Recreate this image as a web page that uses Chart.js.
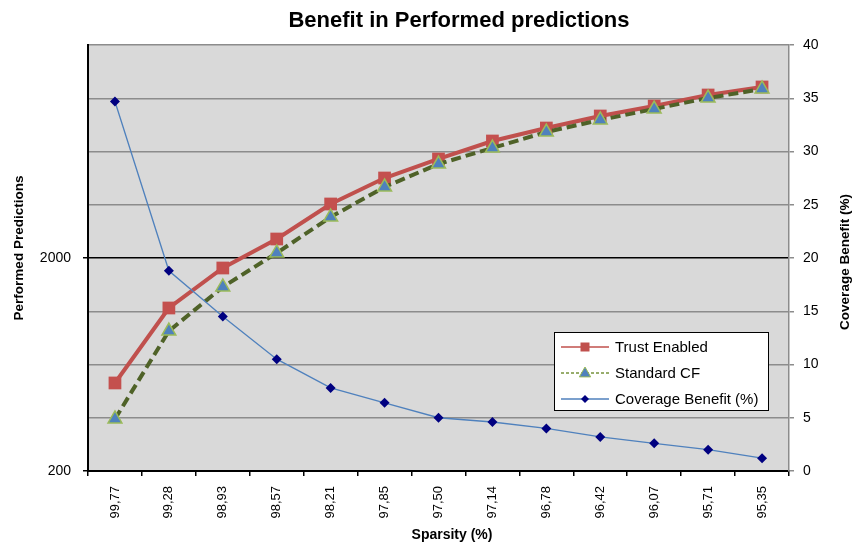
<!DOCTYPE html>
<html><head><meta charset="utf-8">
<script src="https://cdn.jsdelivr.net/npm/chart.js@4/dist/chart.umd.min.js"></script>
<style>html,body{margin:0;padding:0;background:#fff}canvas{display:block}</style>
</head><body>
<canvas id="c" width="855" height="546"></canvas>
<script>
const categories = ['99,77','99,28','98,93','98,57','98,21','97,85','97,50','97,14','96,78','96,42','96,07','95,71','95,35'];
const trustEnabled = [518,1165,1795,2456,3586,4749,5833,7085,8152,9284,10340,11648,12704];
const standardCF = [351,908,1462,2112,3114,4309,5525,6568,7808,8892,10012,11275,12430];
const coverageBenefit = [34.7,18.8,14.5,10.5,7.8,6.4,5.0,4.6,4.0,3.2,2.6,2.0,1.2];
const leftTicks = [200, 2000, 20000];
const leftLabelled = [200, 2000];
const rightTicks = {min: 0, max: 40, step: 5};
const seriesNames = ['Trust Enabled', 'Standard CF', 'Coverage Benefit (%)'];
const chartTitle = 'Benefit in Performed predictions';
const xTitle = 'Sparsity (%)';
const yLeftTitle = 'Performed Predictions';
const yRightTitle = 'Coverage Benefit (%)';
const FONT = "'Liberation Sans', Arial, Helvetica, sans-serif";

const bgPlugin = {
  id: 'bg',
  beforeDraw(chart) {
    const {ctx, chartArea: a} = chart;
    ctx.save();
    ctx.fillStyle = '#fff';
    ctx.fillRect(0, 0, chart.width, chart.height);
    ctx.fillStyle = '#d9d9d9';
    ctx.fillRect(a.left, a.top, a.right - a.left, a.bottom - a.top);
    ctx.restore();
  }
};

const titlesPlugin = {
  id: 'titles',
  afterDraw(chart) {
    const ctx = chart.ctx;
    ctx.save();
    ctx.fillStyle = '#000';
    ctx.textAlign = 'center';
    ctx.textBaseline = 'middle';
    ctx.font = 'bold 22px ' + FONT;
    ctx.fillText(chartTitle, 459, 21);
    ctx.font = 'bold 14px ' + FONT;
    ctx.fillText(xTitle, 452, 535);
    ctx.font = 'bold 13.5px ' + FONT;
    ctx.save(); ctx.translate(19, 248); ctx.rotate(-Math.PI / 2); ctx.fillText(yLeftTitle, 0, 0); ctx.restore();
    ctx.save(); ctx.translate(845, 262); ctx.rotate(-Math.PI / 2); ctx.fillText(yRightTitle, 0, 0); ctx.restore();
    ctx.restore();
  }
};

function marker(ctx, style, x, y, r, fill, stroke, bw) {
  ctx.beginPath();
  if (style === 'rect') {
    ctx.rect(x - r, y - r, 2 * r, 2 * r);
  } else if (style === 'triangle') {
    ctx.moveTo(x, y - r);
    ctx.lineTo(x + r * 0.95, y + r * 0.65);
    ctx.lineTo(x - r * 0.95, y + r * 0.65);
    ctx.closePath();
  } else {
    ctx.moveTo(x, y - r); ctx.lineTo(x + r, y); ctx.lineTo(x, y + r); ctx.lineTo(x - r, y); ctx.closePath();
  }
  ctx.fillStyle = fill; ctx.fill();
  if (bw) { ctx.lineWidth = bw; ctx.strokeStyle = stroke; ctx.stroke(); }
}

const legendPlugin = {
  id: 'customLegend',
  afterDraw(chart) {
    const ctx = chart.ctx;
    const items = [
      {ds: chart.data.datasets[0], line: '#c0504d', dash: [], m: 'rect', r: 4.5, fill: '#c0504d', stroke: '#c0504d', bw: 0},
      {ds: chart.data.datasets[1], line: '#77933c', dash: [3, 2], m: 'triangle', r: 6, fill: '#4f81bd', stroke: '#9bbb59', bw: 1},
      {ds: chart.data.datasets[2], line: '#4f81bd', dash: [], m: 'diamond', r: 4, fill: '#000080', stroke: '#000080', bw: 0}
    ];
    ctx.save();
    ctx.fillStyle = '#fff';
    ctx.fillRect(554.5, 332.5, 214, 78);
    ctx.strokeStyle = '#000';
    ctx.lineWidth = 1;
    ctx.strokeRect(554.5, 332.5, 214, 78);
    items.forEach((it, i) => {
      const y = 347 + i * 26;
      ctx.beginPath();
      ctx.setLineDash(it.dash);
      ctx.strokeStyle = it.line;
      ctx.lineWidth = 1.3;
      ctx.moveTo(561, y); ctx.lineTo(609, y); ctx.stroke();
      ctx.setLineDash([]);
      marker(ctx, it.m, 585, y, it.r, it.fill, it.stroke, it.bw);
      ctx.fillStyle = '#000';
      ctx.font = '15px ' + FONT;
      ctx.textAlign = 'left';
      ctx.textBaseline = 'middle';
      ctx.fillText(it.ds.label, 615, y + 1);
    });
    ctx.restore();
  }
};

new Chart(document.getElementById('c'), {
  type: 'line',
  data: {
    labels: categories,
    datasets: [
      {
        label: seriesNames[0], data: trustEnabled, yAxisID: 'y', order: 3,
        borderColor: '#c0504d', borderWidth: 4, tension: 0,
        pointStyle: 'rect', pointRadius: 9, pointHoverRadius: 9,
        pointBackgroundColor: '#c4504e', pointBorderColor: '#c4504e', pointBorderWidth: 0
      },
      {
        label: seriesNames[1], data: standardCF, yAxisID: 'y', order: 2,
        borderColor: '#4f6228', borderWidth: 4, borderDash: [10, 5], tension: 0,
        pointStyle: 'triangle', pointRadius: 8, pointHoverRadius: 8,
        pointBackgroundColor: '#4f81bd', pointBorderColor: '#9bbb59', pointBorderWidth: 1.5
      },
      {
        label: seriesNames[2], data: coverageBenefit, yAxisID: 'y1', order: 1,
        borderColor: '#4f81bd', borderWidth: 1.3, tension: 0,
        pointStyle: 'rectRot', pointRadius: 5, pointHoverRadius: 5,
        pointBackgroundColor: '#000080', pointBorderColor: '#000080', pointBorderWidth: 0
      }
    ]
  },
  options: {
    responsive: false,
    devicePixelRatio: 1,
    animation: false,
    layout: {padding: {top: 45, left: 0, right: 0, bottom: 0}},
    plugins: {legend: {display: false}, title: {display: false}, tooltip: {enabled: false}},
    scales: {
      x: {
        type: 'category',
        offset: true,
        grid: {offset: true, drawOnChartArea: false, drawTicks: true, tickLength: 5, color: '#000', lineWidth: 1.5},
        border: {display: true, color: '#000', width: 2},
        ticks: {maxRotation: 90, minRotation: 90, autoSkip: false, padding: 10, color: '#000', font: {family: FONT, size: 13}},
        afterFit(s) { s.height = 75; }
      },
      y: {
        type: 'logarithmic', position: 'left', min: leftTicks[0], max: leftTicks[leftTicks.length - 1],
        afterBuildTicks(s) { s.ticks = leftTicks.map(v => ({value: v})); },
        grid: {
          drawOnChartArea: true, tickLength: 5, lineWidth: 1.5,
          color: c => (c.tick && c.tick.value === 2000) ? '#000' : 'rgba(0,0,0,0)',
          tickColor: c => (c.tick && leftLabelled.includes(c.tick.value)) ? '#000' : 'rgba(0,0,0,0)'
        },
        border: {display: true, color: '#000', width: 2},
        ticks: {
          padding: 12, color: '#000', font: {family: FONT, size: 14},
          callback: v => leftLabelled.includes(v) ? String(v) : ''
        },
        afterFit(s) { s.width = 88; }
      },
      y1: {
        type: 'linear', position: 'right', min: rightTicks.min, max: rightTicks.max,
        grid: {
          drawOnChartArea: true, tickLength: 5, lineWidth: 1.5,
          color: c => (c.tick && (c.tick.value === 20 || c.tick.value === 0)) ? 'rgba(0,0,0,0)' : '#8c8c8c',
          tickColor: '#8c8c8c'
        },
        border: {display: true, color: '#8c8c8c', width: 1.5},
        ticks: {stepSize: rightTicks.step, padding: 9, color: '#000', font: {family: FONT, size: 14}},
        afterFit(s) { s.width = 66; }
      }
    }
  },
  plugins: [bgPlugin, titlesPlugin, legendPlugin]
});
</script>
</body></html>
